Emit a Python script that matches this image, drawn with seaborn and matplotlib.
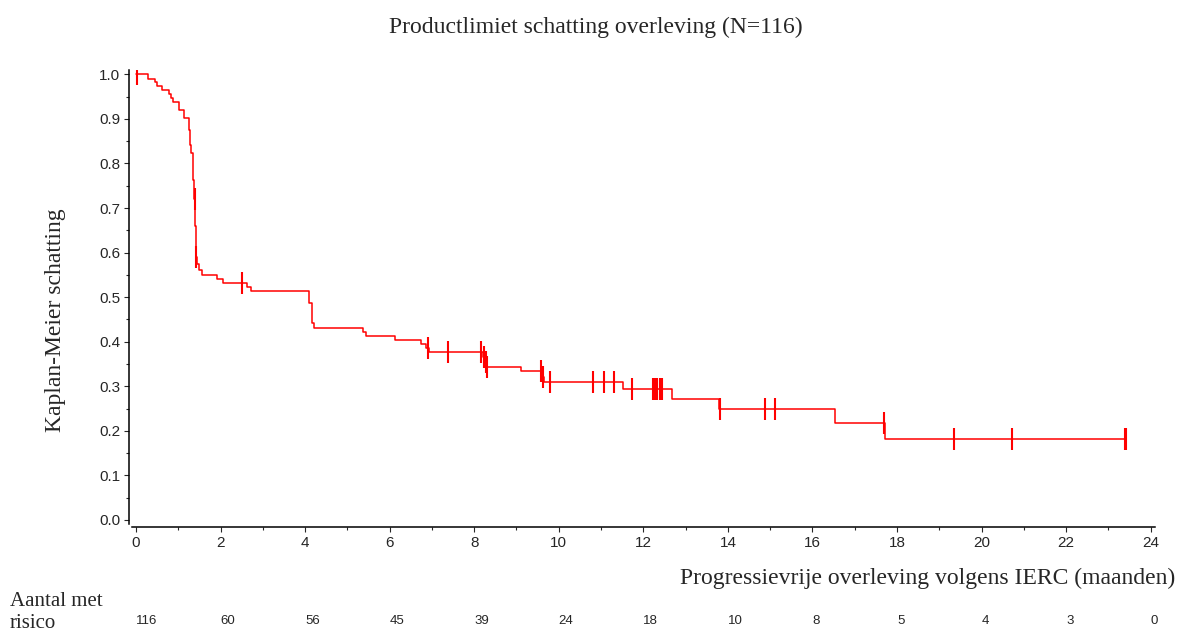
#import libraries
import numpy as np
import pandas as pd
import matplotlib.pyplot as plt
import seaborn as sns
from matplotlib.ticker import MultipleLocator, FormatStrFormatter
from matplotlib.transforms import blended_transform_factory

#Kaplan-Meier steps (months, survival right after the step)
step_time = [0, 0.28, 0.45, 0.51, 0.61, 0.79, 0.83, 0.88, 1.01, 1.13, 1.25, 1.28,
             1.30, 1.34, 1.36, 1.38, 1.40, 1.41, 1.42, 1.45, 1.50, 1.56, 1.92, 2.05,
             2.62, 2.73, 4.09, 4.17, 4.21, 5.36, 5.43, 6.13, 6.73, 6.87, 6.94, 8.20,
             8.26, 8.30, 9.10, 9.60, 9.64, 11.51, 12.68, 13.80, 16.53, 17.72, 23.40]
step_surv = [1.0, 0.990, 0.982, 0.973, 0.964, 0.955, 0.947, 0.938, 0.921, 0.903, 0.874, 0.841,
             0.824, 0.807, 0.762, 0.720, 0.660, 0.620, 0.590, 0.575, 0.561, 0.549, 0.540, 0.532,
             0.523, 0.513, 0.486, 0.441, 0.431, 0.422, 0.413, 0.404, 0.395, 0.385, 0.376, 0.366,
             0.355, 0.344, 0.334, 0.321, 0.309, 0.294, 0.271, 0.248, 0.217, 0.182, 0.182]

#censored observations (months)
censor_time = [0.03, 1.39, 1.43, 2.50, 6.90, 7.39, 8.17, 8.22, 8.27, 8.31, 9.58, 9.62,
               9.80, 10.81, 11.06, 11.30, 11.73, 12.23, 12.28, 12.33, 12.39, 12.44,
               13.82, 14.87, 15.11, 17.69, 19.35, 20.72, 23.38, 23.42]

#number at risk table
risk_time = [0, 2, 4, 6, 8, 10, 12, 14, 16, 18, 20, 22, 24]
risk_count = [116, 60, 56, 45, 39, 24, 18, 10, 8, 5, 4, 3, 0]

km = pd.DataFrame({'time': step_time, 'surv': step_surv})
idx = np.searchsorted(step_time, censor_time, side='right') - 1
cens = pd.DataFrame({'time': censor_time, 'surv': np.array(step_surv)[idx]})

sns.set_style('ticks')
plt.rcParams['font.family'] = ['Liberation Sans', 'DejaVu Sans']

fig = plt.figure(figsize=(11.77, 6.33), dpi=100)
ax = fig.add_axes([0.1119, 0.1722, 0.8694, 0.7172])

sns.lineplot(data=km, x='time', y='surv', drawstyle='steps-post', color='red',
             linewidth=1.1, estimator=None, ax=ax)
sns.scatterplot(data=cens, x='time', y='surv', marker='|', s=235, linewidth=1.5,
                color='red', ax=ax, legend=False)

#axes
ax.set_xlim(-0.1, 24.1)
ax.set_ylim(-0.009, 1.0097)
ax.xaxis.set_major_locator(MultipleLocator(2))
ax.xaxis.set_minor_locator(MultipleLocator(1))
ax.yaxis.set_major_locator(MultipleLocator(0.1))
ax.yaxis.set_minor_locator(MultipleLocator(0.05))
ax.yaxis.set_major_formatter(FormatStrFormatter('%.1f'))
ax.tick_params(which='major', length=3.6, width=0.8, labelsize=11, pad=3)
ax.tick_params(which='minor', length=2.2, width=0.8)
ax.set_xlabel('')
ax.set_ylabel('')
sns.despine(ax=ax)
ax.spines['left'].set_position(('outward', 1.7))
ax.spines['bottom'].set_position(('outward', 2))
for s in ['left', 'bottom']:
    ax.spines[s].set_linewidth(1.1)
    ax.spines[s].set_color('black')

#labels
serif = ['Liberation Serif', 'DejaVu Serif']
fig.text(596 / 1177, 1 - 27 / 633, 'Productlimiet schatting overleving (N=116)',
         ha='center', va='center', fontsize=17, family=serif)
fig.text(55 / 1177, 1 - 320 / 633, 'Kaplan-Meier schatting', rotation=90,
         ha='center', va='center', fontsize=17, family=serif)
fig.text(1175 / 1177, 1 - 578 / 633, 'Progressievrije overleving volgens IERC (maanden)',
         ha='right', va='center', fontsize=17, family=serif)
fig.text(10 / 1177, 1 - 601 / 633, 'Aantal met', ha='left', va='center',
         fontsize=15, family=serif)
fig.text(10 / 1177, 1 - 624 / 633, 'risico', ha='left', va='center',
         fontsize=15, family=serif)

#number at risk
trans = blended_transform_factory(ax.transData, fig.transFigure)
for t, n in zip(risk_time, risk_count):
    ax.text(t, 1 - 621 / 633, str(n), transform=trans, ha='left', va='center',
            fontsize=9.5, clip_on=False)

plt.savefig('out.png', dpi=100)
